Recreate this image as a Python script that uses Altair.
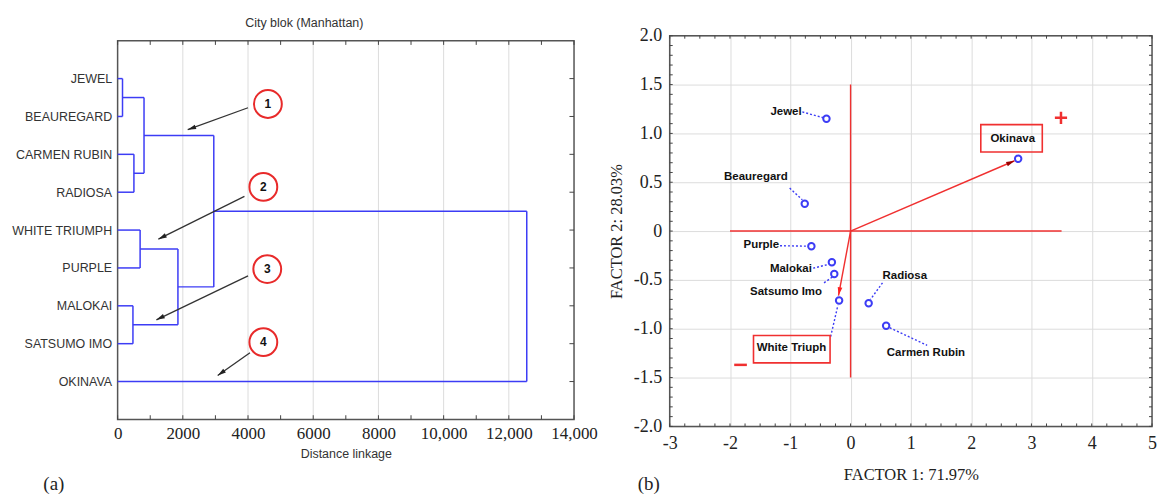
import math
import altair as alt
import numpy as np
import pandas as pd

# ---------------- (a) dendrogram data ----------------
leaves = ["JEWEL", "BEAUREGARD", "CARMEN RUBIN", "RADIOSA", "WHITE TRIUMPH",
          "PURPLE", "MALOKAI", "SATSUMO IMO", "OKINAVA"]
merge_a = ["JEWEL", "CARMEN RUBIN", "m0", "WHITE TRIUMPH", "MALOKAI", "m3", "m2", "m6"]
merge_b = ["BEAUREGARD", "RADIOSA", "m1", "PURPLE", "SATSUMO IMO", "m4", "m5", "OKINAVA"]
merge_dist = [150, 500, 810, 690, 470, 1850, 2950, 12550]

ann_num = ["1", "2", "3", "4"]
ann_x = [4610, 4470, 4590, 4470]
ann_y = [1.67, 3.86, 6.03, 7.96]
arr_x0 = [4000, 3890, 4000, 4060]
arr_y0 = [1.77, 4.11, 6.21, 8.24]
arr_x1 = [2150, 1250, 1190, 3070]
arr_y1 = [2.35, 5.24, 7.37, 8.84]

# ---------------- (b) factor plot data ----------------
cult = ["Jewel", "Beauregard", "Okinava", "Purple", "Malokai", "Satsumo Imo",
        "White Triuph", "Radiosa", "Carmen Rubin"]
f1 = [-0.40, -0.76, 2.78, -0.65, -0.31, -0.27, -0.19, 0.30, 0.59]
f2 = [1.15, 0.28, 0.74, -0.155, -0.32, -0.44, -0.71, -0.74, -0.97]
lab_x = [-1.07, -1.57, 2.69, -1.48, -0.99, -1.07, -0.98, 0.90, 1.25]
lab_y = [1.22, 0.55, 0.94, -0.14, -0.39, -0.62, -1.20, -0.46, -1.25]
lead_x0 = [-0.80, -1.01, None, -1.17, -0.62, -0.44, -0.33, 0.53, 0.65]
lead_y0 = [1.22, 0.44, None, -0.15, -0.38, -0.53, -1.08, -0.53, -0.99]
lead_x1 = [-0.45, -0.80, None, -0.70, -0.36, -0.30, -0.21, 0.33, 1.27]
lead_y1 = [1.16, 0.32, None, -0.155, -0.34, -0.47, -0.76, -0.70, -1.17]
box_x0 = [2.16, -1.61]
box_x1 = [3.18, -0.34]
box_y0 = [0.81, -1.35]
box_y1 = [1.09, -1.07]
vec_x = [2.72, -0.20]
vec_y = [0.72, -0.66]
vec_col = ["#9a0000", "#ff2020"]
plus_x = [3.49]
plus_y = [1.16]
minus_x0 = [-1.93]
minus_x1 = [-1.72]
minus_y = [-1.37]

WA, HA = 458, 385        # left plot incl. 5px headroom above its frame
WB, HB = 484, 392
TOPPAD = 5 / 38          # headroom of left panel in slot units
BLUE = "#3c3cf5"
RED = "#f03030"
FRAME = "#555"
SERIF = "Liberation Serif"
SANS = "Liberation Sans"

# ---------------- build (a) ----------------
pos = {n: (i + 1.0, 0.0) for i, n in enumerate(leaves)}
segs = []
for k, (a, b, d) in enumerate(zip(merge_a, merge_b, merge_dist)):
    ya, ha = pos[a]
    yb, hb = pos[b]
    segs.append(dict(x=ha, x2=d, y=ya, y2=ya))
    segs.append(dict(x=hb, x2=d, y=yb, y2=yb))
    segs.append(dict(x=d, x2=d, y=ya, y2=yb))
    pos[f"m{k}"] = ((ya + yb) / 2, d)
seg_df = pd.DataFrame(segs)

ann_df = pd.DataFrame(dict(x=ann_x, y=ann_y, t=ann_num))


def head_angle(dx_px, dy_px):
    return (math.degrees(math.atan2(dx_px, -dy_px)) + 360) % 360


arr_df = pd.DataFrame(dict(x=arr_x0, y=arr_y0, x2=arr_x1, y2=arr_y1))
arr_df["ang"] = [head_angle((b - a) * WA / 14000, (d - c) * 38)
                 for a, b, c, d in zip(arr_x0, arr_x1, arr_y0, arr_y1)]

tickA_x = pd.DataFrame(dict(x=np.arange(0, 14001, 1000)))
tickA_y = pd.DataFrame(dict(y=np.arange(1, 10)))
gridA = pd.DataFrame(dict(x=np.arange(2000, 12001, 2000)))
frameA = pd.DataFrame(dict(x0=[0], x1=[14000], y0=[0], y1=[10]))

lab_expr_a = "[" + ",".join("'%s'" % s for s in [""] + leaves) + "][datum.value]"

XA = alt.Scale(domain=[0, 14000], nice=False, zero=False)
YA = alt.Scale(domain=[-TOPPAD, 10], reverse=True, nice=False, zero=False)
axA_x = alt.Axis(values=list(range(0, 14001, 2000)), labelOverlap=False, labelFlush=False,
                 labelExpr="datum.value >= 10000 ? format(datum.value, ',') : format(datum.value, 'd')",
                 grid=False, ticks=False, domain=False,
                 labelFont=SERIF, labelFontSize=17, labelColor="#222", labelPadding=6,
                 title="Distance linkage", titleFont=SANS, titleFontSize=12.5,
                 titleFontWeight="normal", titleColor="#333", titlePadding=6)
axA_y = alt.Axis(values=list(range(1, 10)), labelExpr=lab_expr_a, grid=False, ticks=False,
                 domain=False, labelFont=SANS, labelFontSize=12.5, labelColor="#333",
                 labelPadding=6, title=None, labelOverlap=False, labelFlush=False)


def xa(f):
    return alt.X(f, type="quantitative", scale=XA, axis=axA_x)


def ya_(f):
    return alt.Y(f, type="quantitative", scale=YA, axis=axA_y)


gridlines_a = alt.Chart(gridA).mark_rule(color="#dcdcdc", strokeWidth=1).encode(
    x=xa("x"), y=ya_("y0:Q"), y2="y1:Q").transform_calculate(y0="0", y1="10")
frame_a = alt.Chart(frameA).mark_rect(fill=None, stroke=FRAME, strokeWidth=1.5).encode(
    x=xa("x0"), x2="x1", y=ya_("y0"), y2="y1")
dendro = alt.Chart(seg_df).mark_rule(color=BLUE, strokeWidth=1.5).encode(
    x=xa("x"), x2="x2", y=ya_("y"), y2="y2")
ticks_top = alt.Chart(tickA_x).mark_rule(color="#444", strokeWidth=1).encode(
    x=xa("x"), y=ya_("y0:Q"), y2="y1:Q").transform_calculate(y0="0", y1="0.11")
ticks_bot = alt.Chart(tickA_x).mark_rule(color="#444", strokeWidth=1).encode(
    x=xa("x"), y=ya_("y0:Q"), y2="y1:Q").transform_calculate(y0="10", y1="9.89")
ticks_right = alt.Chart(tickA_y).mark_rule(color="#444", strokeWidth=1).encode(
    y=ya_("y"), x=xa("x0:Q"), x2="x1:Q").transform_calculate(x0="14000", x1="13860")
arrows = alt.Chart(arr_df).mark_rule(color="#333", strokeWidth=1.3).encode(
    x=xa("x"), x2="x2", y=ya_("y"), y2="y2")
heads = alt.Chart(arr_df).mark_point(
    shape="M0,0L-0.45,1.6L0.45,1.6Z", filled=True, color="#222", opacity=1, size=110
).encode(x=xa("x2"), y=ya_("y2"), angle=alt.Angle("ang:Q", scale=None))
circ = alt.Chart(ann_df).mark_point(shape="circle", filled=True, fill="white", stroke="#e82a2a",
                                    strokeWidth=2, opacity=1, size=780).encode(x=xa("x"), y=ya_("y"))
circ_t = alt.Chart(ann_df).mark_text(font=SANS, fontSize=12, fontWeight="bold", color="#111").encode(
    x=xa("x"), y=ya_("y"), text="t:N")
lab_a = alt.Chart(pd.DataFrame(dict(t=["(a)"]))).mark_text(
    font=SERIF, fontSize=19, color="#222").encode(
    text="t:N", x=alt.value(-64), y=alt.value(450))

panel_a = alt.layer(gridlines_a, frame_a, dendro, ticks_top, ticks_bot, ticks_right, arrows, heads,
                    circ, circ_t, lab_a).properties(
    width=WA, height=HA,
    title=alt.TitleParams("City blok (Manhattan)", font=SANS, fontSize=12.5, fontWeight="normal",
                          color="#333", anchor="middle", frame="bounds", offset=6))

# ---------------- build (b) ----------------
pts_df = pd.DataFrame(dict(f1=f1, f2=f2, name=cult, lx=lab_x, ly=lab_y))
lead_df = pd.DataFrame(dict(x0=lead_x0, y0=lead_y0, x1=lead_x1, y1=lead_y1)).dropna()
box_df = pd.DataFrame(dict(x0=box_x0, x1=box_x1, y0=box_y0, y1=box_y1))
vec_df = pd.DataFrame(dict(x=vec_x, y=vec_y, c=vec_col))
vec_df["ox"] = 0.0
vec_df["oy"] = 0.0
vec_df["ang"] = [head_angle(a * WB / 8, -b * HB / 4) for a, b in zip(vec_x, vec_y)]
cross_df = pd.DataFrame(dict(x0=[0.0, -2.0], x1=[0.0, 3.5], y0=[-1.5, 0.0], y1=[1.5, 0.0]))
plus_df = pd.DataFrame(dict(x=plus_x, y=plus_y))
minus_df = pd.DataFrame(dict(x0=minus_x0, x1=minus_x1, y=minus_y))
tickB_x = pd.DataFrame(dict(x=np.arange(-3, 5.001, 0.25)))
tickB_y = pd.DataFrame(dict(y=np.arange(-2, 2.001, 0.1)))
frameB = pd.DataFrame(dict(x0=[-3], x1=[5], y0=[-2], y1=[2]))

XB = alt.Scale(domain=[-3, 5], nice=False, zero=False)
YB = alt.Scale(domain=[-2, 2], nice=False, zero=False)
axB_x = alt.Axis(values=list(range(-3, 6)), labelOverlap=False, labelFlush=False,
                 labelExpr="(datum.value < 0 ? '-' : '') + format(abs(datum.value), 'd')",
                 grid=True, gridColor="#dcdcdc", ticks=False, domain=False,
                 labelFont=SERIF, labelFontSize=18, labelColor="#222", labelPadding=8,
                 title="FACTOR 1: 71.97%", titleFont=SERIF, titleFontSize=16.5,
                 titleFontWeight="normal", titleColor="#222", titlePadding=14)
axB_y = alt.Axis(values=[-2, -1.5, -1, -0.5, 0, 0.5, 1, 1.5, 2], labelOverlap=False, labelFlush=False,
                 labelExpr="datum.value == 0 ? '0' : (datum.value < 0 ? '-' : '') + format(abs(datum.value), '.1f')",
                 grid=True, gridColor="#dcdcdc", ticks=False, domain=False,
                 labelFont=SERIF, labelFontSize=18, labelColor="#222", labelPadding=8,
                 title="FACTOR 2: 28.03%", titleFont=SERIF, titleFontSize=16.5,
                 titleFontWeight="normal", titleColor="#222", titlePadding=9)


def xb(f):
    return alt.X(f, type="quantitative", scale=XB, axis=axB_x)


def yb(f):
    return alt.Y(f, type="quantitative", scale=YB, axis=axB_y)


frame_b = alt.Chart(frameB).mark_rect(fill=None, stroke=FRAME, strokeWidth=1.5).encode(
    x=xb("x0"), x2="x1", y=yb("y0"), y2="y1")
tb_top = alt.Chart(tickB_x).mark_rule(color="#444", strokeWidth=1).encode(
    x=xb("x"), y=yb("y0:Q"), y2="y1:Q").transform_calculate(y0="2", y1="1.97")
tb_bot = alt.Chart(tickB_x).mark_rule(color="#444", strokeWidth=1).encode(
    x=xb("x"), y=yb("y0:Q"), y2="y1:Q").transform_calculate(y0="-2", y1="-1.97")
tb_left = alt.Chart(tickB_y).mark_rule(color="#444", strokeWidth=1).encode(
    y=yb("y"), x=xb("x0:Q"), x2="x1:Q").transform_calculate(x0="-3", x1="-2.95")
tb_right = alt.Chart(tickB_y).mark_rule(color="#444", strokeWidth=1).encode(
    y=yb("y"), x=xb("x0:Q"), x2="x1:Q").transform_calculate(x0="5", x1="4.95")
cross = alt.Chart(cross_df).mark_rule(color=RED, strokeWidth=1.4).encode(
    x=xb("x0"), x2="x1", y=yb("y0"), y2="y1")
vec = alt.Chart(vec_df).mark_rule(color=RED, strokeWidth=1.4).encode(
    x=xb("ox"), x2="x", y=yb("oy"), y2="y")
vec_h = alt.Chart(vec_df).mark_point(
    shape="M0,0L-0.45,1.6L0.45,1.6Z", filled=True, opacity=1, size=110
).encode(x=xb("x"), y=yb("y"), angle=alt.Angle("ang:Q", scale=None),
         color=alt.Color("c:N", scale=None))
leads = alt.Chart(lead_df).mark_rule(color=BLUE, strokeWidth=1.4, strokeDash=[2, 2]).encode(
    x=xb("x0"), x2="x1", y=yb("y0"), y2="y1")
boxes = alt.Chart(box_df).mark_rect(fill=None, stroke=RED, strokeWidth=1.6).encode(
    x=xb("x0"), x2="x1", y=yb("y0"), y2="y1")
pts = alt.Chart(pts_df).mark_point(shape="circle", filled=False, color=BLUE, strokeWidth=2,
                                   opacity=1, size=42).encode(x=xb("f1"), y=yb("f2"))
names = alt.Chart(pts_df).mark_text(font=SANS, fontSize=11.5, fontWeight="bold", color="#111").encode(
    x=xb("lx"), y=yb("ly"), text="name:N")
plus = alt.Chart(plus_df).mark_point(shape="M-1,0L1,0M0,-1L0,1", filled=False, color=RED,
                                     strokeWidth=2.5, opacity=1, size=150).encode(x=xb("x"), y=yb("y"))
minus = alt.Chart(minus_df).mark_rule(color=RED, strokeWidth=2.5).encode(
    x=xb("x0"), x2="x1", y=yb("y"))
lab_b = alt.Chart(pd.DataFrame(dict(t=["(b)"]))).mark_text(
    font=SERIF, fontSize=19, color="#222").encode(
    text="t:N", x=alt.value(-21), y=alt.value(450))

panel_b = alt.layer(frame_b, tb_top, tb_bot, tb_left, tb_right, cross, vec, vec_h, leads, boxes, pts,
                    names, plus, minus, lab_b).properties(width=WB, height=HB)

chart = alt.hconcat(panel_a, panel_b, spacing=10).properties(
    padding={"left": 3, "top": 8, "right": 0, "bottom": 0}, background="white"
).configure_view(strokeOpacity=0)

chart.save("out.html", embed_options={"renderer": "svg", "actions": False})
